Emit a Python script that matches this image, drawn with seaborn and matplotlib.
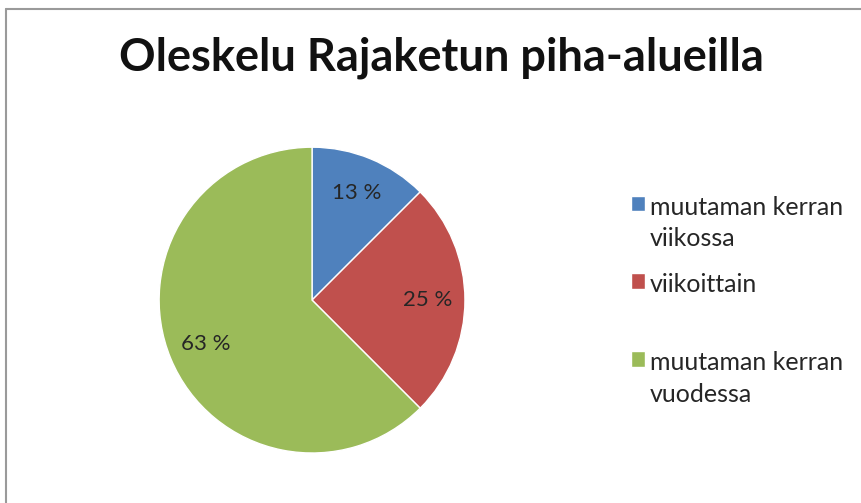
import seaborn as sns
import matplotlib.pyplot as plt
from matplotlib.lines import Line2D

categories = ["muutaman kerran\nviikossa", "viikoittain\n", "muutaman kerran\nvuodessa"]
shares = [12.5, 25.0, 62.5]
pct_labels = ["13 %", "25 %", "63 %"]
colors = ["#4F81BD", "#C0504D", "#9BBB59"]

sns.set_theme(style="white")
plt.rcParams["font.family"] = ["Lato", "DejaVu Sans"]

fig = plt.figure(figsize=(8.62, 5.03), dpi=100)
ax = fig.add_axes([0.1845, 0.0994, 0.355, 0.608])

wedges, texts = ax.pie(shares, labels=pct_labels, colors=colors, startangle=90,
                       counterclock=False, labeldistance=0.755, radius=1,
                       textprops={"fontsize": 16, "color": "#262626"})
for t in texts:
    t.set_ha("center")
    t.set_va("center")
ax.set_xlim(-1, 1)
ax.set_ylim(-1, 1)
ax.set_aspect("equal")

leg = fig.legend(wedges, categories, loc="upper left", bbox_to_anchor=(0.706, 0.656),
                 frameon=False, fontsize=18, handlelength=0.56, handleheight=0.56,
                 handletextpad=0.2, labelspacing=0.95, labelcolor="#262626")
for t in leg.get_texts():
    t.set_linespacing(1.43)
# keep the colour square beside the first line of each label
for row in leg._legend_handle_box.get_children()[0].get_children():
    row.align = "top"

fig.text(0.512, 0.885, "Oleskelu Rajaketun piha-alueilla", ha="center", va="center",
         fontsize=32.5, fontweight="bold", color="#111111")

# chart frame (right and bottom edges fall outside the crop)
fig.add_artist(Line2D([6 / 862, 1], [1 - 9 / 503, 1 - 9 / 503], color="#9a9a9a", lw=1.5,
                      transform=fig.transFigure))
fig.add_artist(Line2D([6 / 862, 6 / 862], [0, 1 - 9 / 503], color="#9a9a9a", lw=1.5,
                      transform=fig.transFigure))

fig.savefig("out.png", dpi=100, facecolor="white")
